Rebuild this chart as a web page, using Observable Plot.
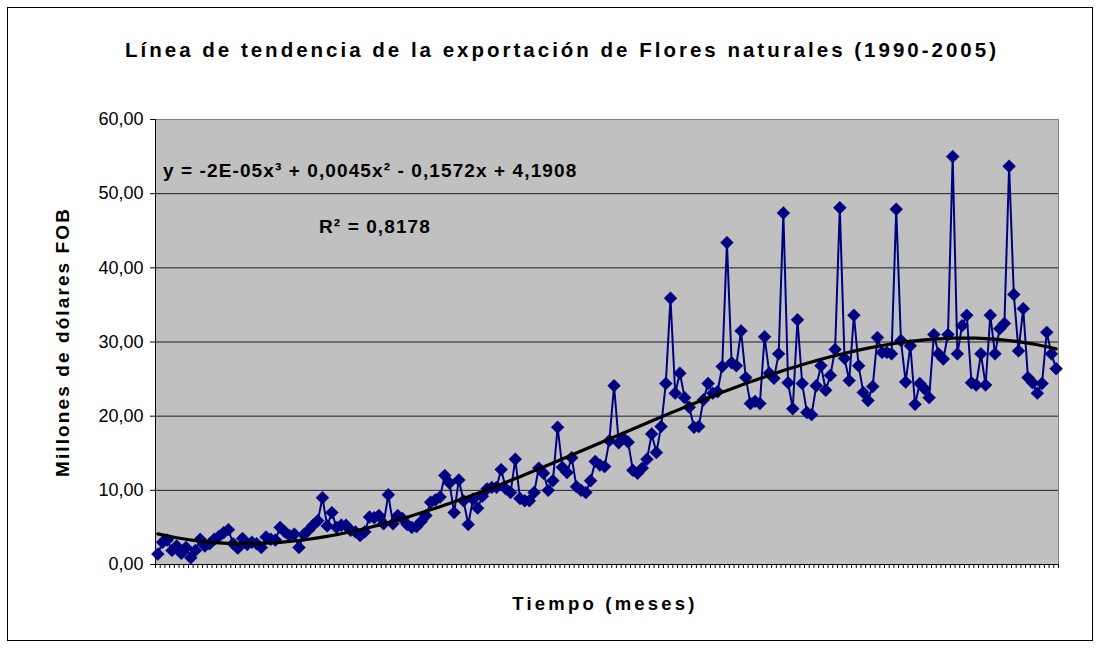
<!DOCTYPE html>
<html><head><meta charset="utf-8">
<script src="https://cdn.jsdelivr.net/npm/d3@7"></script>
<script src="https://cdn.jsdelivr.net/npm/@observablehq/plot@0.6"></script>
<style>
body{margin:0;background:#fff;font-family:"Liberation Sans",Arial,sans-serif;}
#wrap{position:relative;width:1101px;height:648px;overflow:hidden;background:#fff;}
#chart{position:absolute;left:0;top:0;}
#border{position:absolute;left:7px;top:7px;width:1086px;height:634px;border:1px solid #000;box-sizing:border-box;pointer-events:none;}
.t{position:absolute;font-weight:bold;white-space:nowrap;color:#000;line-height:1;}
</style></head><body>
<div id="wrap">
<div id="chart"></div>
<div id="border"></div>
<div class="t" id="title" style="left:562px;top:40px;transform:translateX(-50%);font-size:20.5px;letter-spacing:3px;">Línea de tendencia de la exportación de Flores naturales (1990-2005)</div>
<div class="t" id="ytitle" style="left:62px;top:342px;transform:translate(-50%,-50%) rotate(-90deg);font-size:19px;letter-spacing:2.1px;">Millones de dólares FOB</div>
<div class="t" id="xtitle" style="left:605px;top:595px;transform:translateX(-50%);font-size:18.5px;letter-spacing:3.2px;">Tiempo (meses)</div>
<div class="t" id="eq" style="left:163px;top:161px;font-size:19px;letter-spacing:1.1px;">y = -2E-05x³ + 0,0045x² - 0,1572x + 4,1908</div>
<div class="t" id="r2" style="left:319px;top:217px;font-size:19px;letter-spacing:1.1px;">R² = 0,8178</div>
</div>
<script>
// Monthly exports of natural flowers, millions of USD FOB
const v1990 = [1.4, 3.0, 3.3, 1.9, 2.5, 1.5, 2.3, 0.9, 1.9, 3.4, 2.5, 2.8];
const v1991 = [3.4, 3.8, 4.3, 4.7, 2.8, 2.2, 3.5, 2.7, 3.0, 2.8, 2.3, 3.7];
const v1992 = [3.4, 3.3, 5.0, 4.4, 3.9, 4.1, 2.3, 4.0, 4.6, 5.3, 5.9, 9.0];
const v1993 = [5.2, 7.0, 5.0, 5.3, 5.3, 4.6, 4.4, 3.9, 4.4, 6.4, 6.3, 6.6];
const v1994 = [5.5, 9.4, 5.5, 6.6, 6.2, 5.4, 5.0, 5.1, 5.8, 6.6, 8.4, 8.7];
const v1995 = [9.1, 12.0, 11.0, 7.0, 11.4, 8.6, 5.4, 8.8, 7.6, 9.2, 10.2, 10.4];
const v1996 = [10.4, 12.8, 10.2, 9.7, 14.2, 8.9, 8.6, 8.6, 9.7, 13.0, 12.3, 10.0];
const v1997 = [11.3, 18.5, 13.1, 12.4, 14.4, 10.5, 10.0, 9.7, 11.3, 13.9, 13.4, 13.2];
const v1998 = [16.7, 24.1, 16.4, 17.0, 16.5, 12.7, 12.3, 13.0, 14.2, 17.6, 15.1, 18.6];
const v1999 = [24.4, 35.9, 23.1, 25.8, 22.5, 21.2, 18.5, 18.6, 22.2, 24.4, 23.1, 23.3];
const v2000 = [26.7, 43.4, 27.2, 26.8, 31.5, 25.2, 21.7, 22.0, 21.7, 30.7, 25.8, 25.1];
const v2001 = [28.4, 47.4, 24.5, 21.0, 33.0, 24.4, 20.5, 20.2, 24.1, 26.8, 23.5, 25.5];
const v2002 = [29.0, 48.1, 27.8, 24.8, 33.6, 26.8, 23.2, 22.1, 24.0, 30.6, 28.6, 28.6];
const v2003 = [28.4, 47.9, 30.2, 24.6, 29.5, 21.6, 24.4, 23.7, 22.5, 31.0, 28.4, 27.7];
const v2004 = [31.0, 55.0, 28.4, 32.2, 33.6, 24.5, 24.2, 28.4, 24.2, 33.6, 28.4, 31.8];
const v2005 = [32.5, 53.7, 36.4, 28.8, 34.5, 25.2, 24.5, 23.1, 24.4, 31.3, 28.4, 26.4];
const yTicks = [0, 10, 20, 30, 40, 50, 60];

const values = [].concat(v1990, v1991, v1992, v1993, v1994, v1995, v1996, v1997,
  v1998, v1999, v2000, v2001, v2002, v2003, v2004, v2005);
const data = values.map((v, i) => ({month: i + 1, value: v}));

// Least-squares cubic trend (as the spreadsheet's polynomial trendline), fitted to the data
function cubicFit(xs, ys) {
  const s = d3.max(xs);
  const n = 4, A = Array.from({length: n}, () => new Array(n + 1).fill(0));
  xs.forEach((x0, k) => {
    const t = x0 / s, p = [1, t, t * t, t * t * t];
    for (let i = 0; i < n; i++) { for (let j = 0; j < n; j++) A[i][j] += p[i] * p[j]; A[i][n] += p[i] * ys[k]; }
  });
  for (let c = 0; c < n; c++) {
    let m = c; for (let r = c + 1; r < n; r++) if (Math.abs(A[r][c]) > Math.abs(A[m][c])) m = r;
    [A[c], A[m]] = [A[m], A[c]];
    for (let r = 0; r < n; r++) if (r !== c) { const f = A[r][c] / A[c][c]; for (let k = c; k <= n; k++) A[r][k] -= f * A[c][k]; }
  }
  const b = A.map((row, i) => row[n] / row[i]);
  return x0 => { const t = x0 / s; return b[0] + b[1] * t + b[2] * t * t + b[3] * t * t * t; };
}
const fit = cubicFit(data.map(d => d.month), data.map(d => d.value));
const trend = data.map(d => ({month: d.month, value: fit(d.month)}));

const fmt = d => d.toFixed(2).replace(".", ",");
const navy = "#000080";

const chart = Plot.plot({
  width: 1101, height: 648,
  marginLeft: 155, marginRight: 43, marginTop: 119, marginBottom: 84,
  style: {fontFamily: "'Liberation Sans', Arial, sans-serif", fontSize: "18px", color: "#000", background: "transparent", overflow: "visible"},
  x: {domain: [0, values.length], axis: null},
  y: {domain: [0, 60], axis: null},
  marks: [
    Plot.frame({fill: "#C0C0C0", stroke: "#808080"}),
    Plot.gridY(yTicks.slice(1, -1), {stroke: "#000", strokeOpacity: 0.85, strokeWidth: 1}),
    Plot.axisY(yTicks, {anchor: "left", label: null, tickSize: 5, tickPadding: 7, tickFormat: fmt, fontSize: 18, stroke: "#000"}),
    Plot.axisX(d3.range(0, values.length + 1), {anchor: "bottom", label: null, tickSize: 4, tickFormat: () => "", stroke: "#000"}),
    Plot.ruleX([0], {stroke: "#000"}),
    Plot.ruleY([0], {stroke: "#000"}),
    Plot.line(data, {x: d => d.month - 0.5, y: "value", stroke: navy, strokeWidth: 2}),
    Plot.dot(data, {x: d => d.month - 0.5, y: "value", symbol: "diamond2", r: 5.8, fill: navy, stroke: navy, strokeWidth: 0.5}),
    Plot.line(trend, {x: d => d.month - 0.5, y: "value", stroke: "#000", strokeWidth: 3.2})
  ]
});
document.getElementById("chart").appendChild(chart);
</script>
</body></html>
